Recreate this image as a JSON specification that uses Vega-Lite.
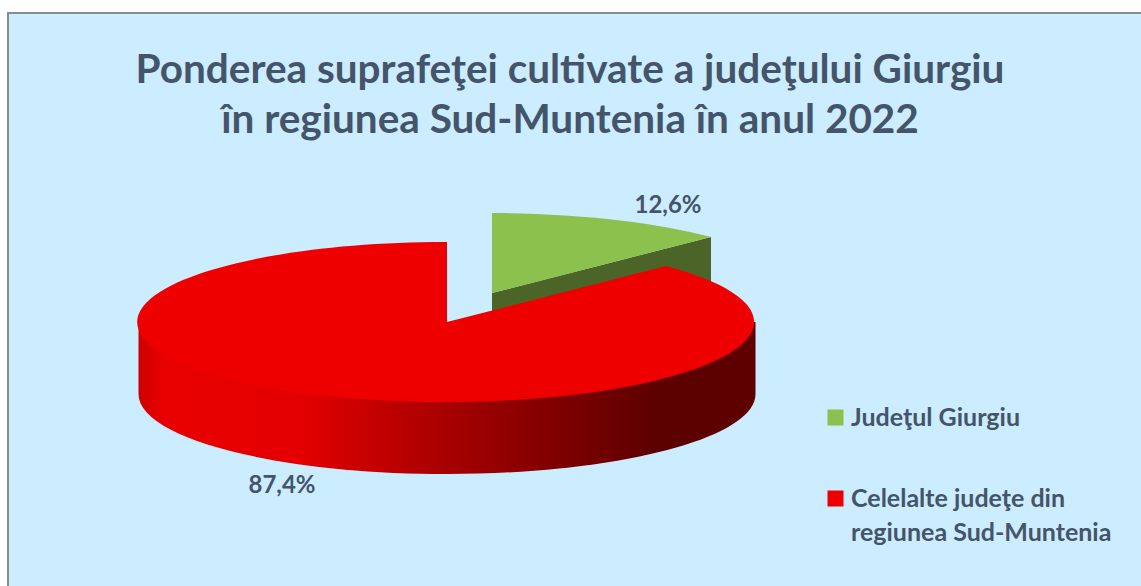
{
"$schema":"https://vega.github.io/schema/vega-lite/v6.json",
"width":1134,"height":574,
"padding":{"left":8,"top":13,"right":0,"bottom":0},
"autosize":{"type":"none"},
"background":"#ffffff",
"view":{"fill":"#CCECFF","stroke":"#8A8A8A","strokeWidth":2},
"title":{"text":["Ponderea suprafeţei cultivate a judeţului Giurgiu","în regiunea Sud-Muntenia în anul 2022"],"frame":"group","anchor":"middle","dx":-5,"dy":132,"font":"Lato","fontWeight":"bold","fontSize":40.5,"lineHeight":50,"color":"#44546A"},
"data":{"values":[
{"slice":"Județul Giurgiu","value":12.6,"label":"12,6%"},
{"slice":"Celelalte județe din regiunea Sud-Muntenia","value":87.4,"label":"87,4%"}
]},
"resolve":{"scale":{"x":"independent","y":"independent"}},
"layer":[
{"transform":[{"filter":"datum.value < 50"}],
 "mark":{"type":"point","filled":true,"opacity":1,"strokeWidth":0,"size":40000,"fill":"#4A6527","shape":"M0,0 L2.19,-0.56 L2.19,0.16 L0,0.72 Z"},
 "encoding":{"x":{"field":"slice","type":"nominal","axis":null,"scale":{"type":"point","padding":0,"domain":["Județul Giurgiu","Celelalte județe din regiunea Sud-Muntenia"],"range":[484,439]}},
 "y":{"field":"slice","type":"nominal","axis":null,"scale":{"type":"point","padding":0,"domain":["Județul Giurgiu","Celelalte județe din regiunea Sud-Muntenia"],"range":[280,309]}}}},
{"transform":[{"filter":"datum.value < 50"}],
 "mark":{"type":"point","filled":true,"opacity":1,"strokeWidth":0,"size":40000,"shape":"M0,0 L0,-0.8 A3.085,0.8 0 0 1 2.19,-0.56 Z"},
 "encoding":{"x":{"field":"slice","type":"nominal","axis":null,"scale":{"type":"point","padding":0,"domain":["Județul Giurgiu","Celelalte județe din regiunea Sud-Muntenia"],"range":[484,439]}},
 "y":{"field":"slice","type":"nominal","axis":null,"scale":{"type":"point","padding":0,"domain":["Județul Giurgiu","Celelalte județe din regiunea Sud-Muntenia"],"range":[280,309]}},
 "color":{"field":"slice","type":"nominal","sort":null,"scale":{"domain":["Județul Giurgiu","Celelalte județe din regiunea Sud-Muntenia"],"range":["#8BC14C","#EE0000"]},
  "legend":{"title":null,"orient":"none","legendX":815,"legendY":392,"symbolType":"square","symbolSize":256,"symbolStrokeWidth":0,"labelFont":"Lato","labelFontWeight":"bold","labelFontSize":25,"labelColor":"#44546A","labelLimit":400,"labelOffset":3,"rowPadding":55,
   "labelExpr":"indexof(datum.label,' regiunea')>0 ? ['Celelalte judeţe din','regiunea Sud-Muntenia'] : 'Judeţul Giurgiu'",
   "encoding":{"symbols":{"fill":{"condition":{"test":"datum.value=='Județul Giurgiu'","value":"#92D050"},"value":"#FF0000"}},"labels":{"lineHeight":{"value":34}}}}}}},
{"transform":[{"filter":"datum.value > 50"}],
 "mark":{"type":"point","filled":true,"opacity":1,"strokeWidth":0,"size":40000,
  "fill":{"gradient":"linear","x1":0,"y1":0,"x2":1,"y2":0,"stops":[{"offset":0,"color":"#CC0000"},{"offset":0.04,"color":"#E80000"},{"offset":0.26,"color":"#E40000"},{"offset":0.44,"color":"#B50000"},{"offset":0.575,"color":"#960000"},{"offset":0.71,"color":"#780000"},{"offset":0.845,"color":"#5C0000"},{"offset":1,"color":"#5E0000"}]},
  "shape":"M-3.085,0 L3.085,0 L3.085,0.72 A3.085,0.8 0 0 1 -3.085,0.72 Z"},
 "encoding":{"x":{"field":"slice","type":"nominal","axis":null,"scale":{"type":"point","padding":0,"domain":["Județul Giurgiu","Celelalte județe din regiunea Sud-Muntenia"],"range":[484,439]}},
 "y":{"field":"slice","type":"nominal","axis":null,"scale":{"type":"point","padding":0,"domain":["Județul Giurgiu","Celelalte județe din regiunea Sud-Muntenia"],"range":[280,309]}}}},
{"transform":[{"filter":"datum.value > 50"}],
 "mark":{"type":"point","filled":true,"opacity":1,"strokeWidth":0,"size":40000,"shape":"M0,0 L0,-0.8 A3.085,0.8 0 1 0 2.19,-0.56 Z"},
 "encoding":{"x":{"field":"slice","type":"nominal","axis":null,"scale":{"type":"point","padding":0,"domain":["Județul Giurgiu","Celelalte județe din regiunea Sud-Muntenia"],"range":[484,439]}},
 "y":{"field":"slice","type":"nominal","axis":null,"scale":{"type":"point","padding":0,"domain":["Județul Giurgiu","Celelalte județe din regiunea Sud-Muntenia"],"range":[280,309]}},
 "color":{"field":"slice","type":"nominal","sort":null,"scale":{"domain":["Județul Giurgiu","Celelalte județe din regiunea Sud-Muntenia"],"range":["#8BC14C","#EE0000"]},"legend":null}}},
{"mark":{"type":"text","font":"Lato","fontWeight":"bold","fontSize":24,"color":"#44546A","align":"center","baseline":"middle"},
 "encoding":{"text":{"field":"label"},
 "x":{"field":"slice","type":"nominal","axis":null,"scale":{"type":"point","padding":0,"domain":["Județul Giurgiu","Celelalte județe din regiunea Sud-Muntenia"],"range":[660,274]}},
 "y":{"field":"slice","type":"nominal","axis":null,"scale":{"type":"point","padding":0,"domain":["Județul Giurgiu","Celelalte județe din regiunea Sud-Muntenia"],"range":[193,473]}}}}
]
}
